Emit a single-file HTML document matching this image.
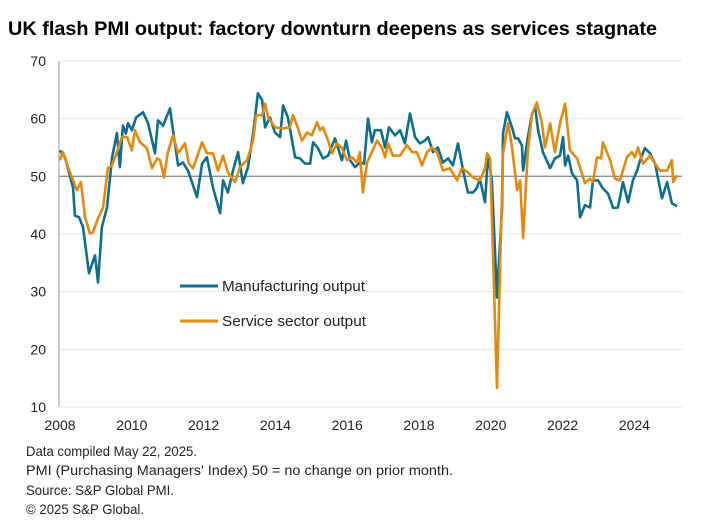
<!DOCTYPE html>
<html><head><meta charset="utf-8"><style>
body{margin:0;background:#fff;}
svg{display:block;font-family:"Liberation Sans",Arial,sans-serif;}
</style></head><body>
<svg id="chart" width="722" height="530" viewBox="0 0 722 530">
<text x="8" y="35" font-size="19" font-weight="bold" fill="#000" textLength="649" lengthAdjust="spacingAndGlyphs">UK flash PMI output: factory downturn deepens as services stagnate</text>
<g id="grid"></g>
<g id="yticks"></g>
<g id="xticks"></g>
<line x1="59" y1="61" x2="59" y2="407" stroke="#999" stroke-width="1"/>
<g id="series"></g>
<g>
<line x1="180" y1="286" x2="218" y2="286" stroke="#0e6e8c" stroke-width="3"/>
<text x="222" y="291" font-size="15" fill="#222" textLength="143" lengthAdjust="spacingAndGlyphs">Manufacturing output</text>
<line x1="180" y1="321" x2="218" y2="321" stroke="#e08a12" stroke-width="3"/>
<text x="222" y="326" font-size="15" fill="#222" textLength="144" lengthAdjust="spacingAndGlyphs">Service sector output</text>
</g>
<g font-size="14" fill="#222">
<text x="26" y="456" textLength="171" lengthAdjust="spacingAndGlyphs">Data compiled May 22, 2025.</text>
<text x="26" y="475" textLength="427" lengthAdjust="spacingAndGlyphs">PMI (Purchasing Managers' Index) 50 = no change on prior month.</text>
<text x="26" y="495" textLength="148" lengthAdjust="spacingAndGlyphs">Source: S&amp;P Global PMI.</text>
<text x="26" y="514" textLength="118" lengthAdjust="spacingAndGlyphs">© 2025 S&amp;P Global.</text>
</g>
</svg>
<script>
const yTicks=[10,20,30,40,50,60,70];
const xTickYears=[2008,2010,2012,2014,2016,2018,2020,2022,2024];
const mfgMonths=[0.3,2,4.7,5.3,6.7,8,10,12,13,14.3,16,17.7,19.3,20.3,21.3,22.3,23,24.3,25.7,28,29.7,32,33,34.7,37,38,39.7,41.3,43,46,47.7,49.3,51.3,53.7,54.7,56.3,58,59.7,61.3,63,64.7,66.3,67.7,68.7,70.3,72,73.7,74.7,76.3,78.7,80.3,82,83.7,84.7,86.3,88,89.7,92,94.3,95.7,97,98.7,100.3,101.7,103,104.3,105.3,107.3,108.7,110,112,113.7,115.3,117,118.7,120.3,122,123,124.7,126.3,128,129.7,131.3,133,134.7,136.3,138,139.3,140.3,142,143,144.3,146,147.7,148,149.3,151,152,153,154.3,154.7,156.3,157.7,158.7,159.7,161.3,163.7,165.3,167,168,168.7,169.7,171,172.7,173.7,175.3,177,178,179.7,181.3,183,184.7,186.3,188,189.7,191.3,192.7,193.7,195.3,197,198.7,201,202.7,204.3,206];
const mfgValues=[54.5,53.3,48,43.2,42.9,41.2,33.2,36.3,31.6,41.2,44.6,53.3,57.5,51.6,58.8,57.4,59.2,58,60.2,61.1,59.2,54,59.7,58.8,61.8,58,51.9,52.4,51,46.4,52.2,53.3,48.1,43.6,49.3,47.2,51,54.2,48.8,51.6,57.4,64.4,63.2,58.5,60.2,57.6,56.8,62.3,60.2,53.3,53.1,52.2,52.2,55.9,54.9,53.1,53.6,56.6,52.8,56.2,52.8,51.6,52.4,52.2,60,55.9,58,58,55,58.5,57.1,58,55.7,60.9,56.8,55.7,56.2,56.8,54.2,55,52.4,53.1,51.9,55.7,51,47.2,47.2,48,49.6,45.5,53.6,49.3,29,44.6,57.4,61.1,58.5,56.6,56.6,55.4,51,56.8,60.9,62,58,54.2,51.4,53.1,53.6,56.8,51.9,53.6,50.5,49.3,42.9,45,44.6,49.3,49.3,47.9,47,44.5,44.6,49,45.5,49.3,51,52.8,54.9,54,52.2,46.2,49,45.3,44.8];
const svcMonths=[0.3,1.3,3,4.7,6,7.3,8.7,10.3,11.3,13,14.7,16.3,17.7,19.3,21,22.7,24.3,25.3,27,29.3,31,32.7,33.7,35,36.3,38,39.7,42,43.3,44.7,47.7,49.3,51.3,53,54.7,56.3,58.7,60.3,62.7,64.7,65.7,67.7,68.7,69.7,72,74.7,77,78,79.7,81,82.7,84.3,86,87,88,89.7,91,92.7,94.3,96,97.7,99.3,100.3,101.3,102.7,104.3,106,107.7,108.7,109.7,111.3,113.7,116,117.7,119.3,121,122.7,124.3,126,128,130.3,132.7,134.3,136.3,138,140.3,142,142.7,143.7,146,148,149.7,151,152.7,153.7,154.7,156.3,157.7,159.3,161,162,163.7,165.3,167,168.7,170.3,172.7,175.3,177,178,179.3,180.7,181.3,183.7,185.3,187,189.3,191,192,193,194.7,197,198.7,200.3,202.7,204.3,204.7,206];
const svcValues=[52.8,54.2,51.6,49.3,47.6,49,42.9,40.1,40.3,42.7,44.6,51.4,51.9,54.2,56.8,56.8,54.5,58,55.9,54.9,51.4,53.1,52.8,49.8,54.2,57.1,54,55.7,52.2,51.4,55.9,54,54,51,53.6,50.7,49,51.6,52.8,56.2,60.6,60.6,62.6,60.2,58.5,58.3,58.5,60.6,58.3,56.2,57.6,57.1,59.4,58,58.5,56.2,54,55.7,54.9,52.8,53.3,52.4,54.2,47.2,52.4,54.2,56.2,54.9,53.3,55.7,53.6,53.6,55.4,54.2,54.2,51.9,54.2,55,54.2,51,51.4,49.3,51.4,50.7,49.8,49.3,51.4,54,53.1,13.3,54,59.2,55,47.6,49.3,39.3,54.5,60.9,62.8,59.2,55,59.2,54.2,59.2,62.6,54.5,53.1,48.8,49.6,49,53.3,53.1,55.9,52.8,49.6,49.3,53.3,54.2,53.3,55,52.2,53.6,52.2,51,51,52.8,49,50.2];
const NS='http://www.w3.org/2000/svg';
function xScale(m){return 59+m*3;}
function xYear(y){return 60+(y-2008)*35.9;}
function yScale(v){return 407-(v-10)*5.767;}
const grid=document.getElementById('grid'),yt=document.getElementById('yticks'),xt=document.getElementById('xticks'),ser=document.getElementById('series');
yTicks.forEach(v=>{
  const l=document.createElementNS(NS,'line');
  l.setAttribute('x1',59);l.setAttribute('x2',682);
  l.setAttribute('y1',yScale(v));l.setAttribute('y2',yScale(v));
  l.setAttribute('stroke',v===50?'#8c8c8c':'#e6e6e6');l.setAttribute('stroke-width',v===50?1.3:1);
  
  
  grid.appendChild(l);
  const t=document.createElementNS(NS,'text');
  t.setAttribute('x',46);t.setAttribute('y',yScale(v)+5);t.setAttribute('text-anchor','end');t.setAttribute('font-size','14');t.setAttribute('fill','#222');
  t.textContent=v;
  
  
  yt.appendChild(t);
});
xTickYears.forEach(y=>{
  const t=document.createElementNS(NS,'text');
  t.setAttribute('x',xYear(y));t.setAttribute('y',430);t.setAttribute('text-anchor','middle');t.setAttribute('font-size','14');t.setAttribute('fill','#222');
  t.textContent=y;
  
  
  xt.appendChild(t);
});
function drawLine(months,vals,color,name){
  const p=document.createElementNS(NS,'polyline');
  p.setAttribute('points',months.map((m,i)=>xScale(m).toFixed(1)+','+yScale(vals[i]).toFixed(1)).join(' '));
  p.setAttribute('fill','none');p.setAttribute('stroke',color);p.setAttribute('stroke-width','2.6');p.setAttribute('stroke-linejoin','round');
  
  
  ser.appendChild(p);
}
drawLine(mfgMonths,mfgValues,'#0e6e8c','manufacturing-output-line');
drawLine(svcMonths,svcValues,'#e08a12','service-sector-output-line');
</script>
</body></html>
